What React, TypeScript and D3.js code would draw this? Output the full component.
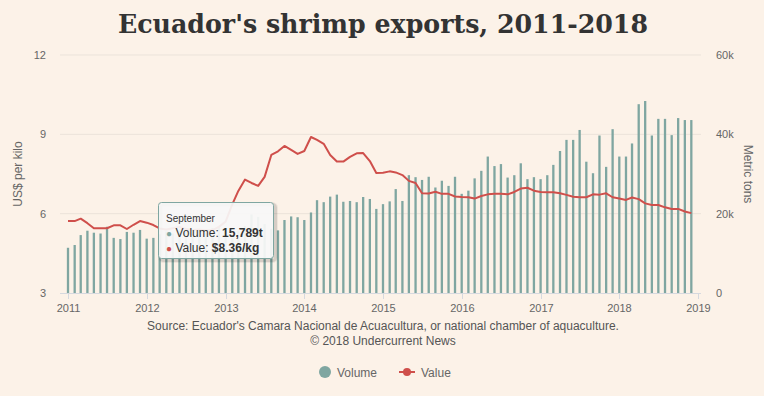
import React from "react";
import * as d3 from "d3";

const title = "Ecuador's shrimp exports, 2011-2018";
const sourceLines = [
  "Source: Ecuador's Camara Nacional de Acuacultura, or national chamber of aquaculture.",
  "© 2018 Undercurrent News",
];
const years = [2011, 2012, 2013, 2014, 2015, 2016, 2017, 2018, 2019];
const leftTicks = [3, 6, 9, 12];
const rightTicks = [0, 20000, 40000, 60000];
const rightTickLabels = ["0", "20k", "40k", "60k"];

// monthly volume, thousand tonnes, Jan 2011 - Dec 2018
const volumeK = [
  11.4, 12.1, 14.6, 15.7, 15.2, 15.0, 16.7, 13.9, 13.6, 15.4, 15.2, 15.9,
  13.7, 13.9, 14.8, 15.5, 15.0, 16.2, 15.6, 14.9, 15.8, 15.2, 16.4, 16.8,
  14.6, 13.9, 15.8, 16.9, 19.8, 19.2, 17.4, 16.2, 15.789, 18.4, 19.3, 19.1,
  18.4, 20.3, 23.4, 22.9, 24.3, 24.8, 23.0, 23.2, 22.9, 24.2, 23.7, 21.2,
  22.4, 23.1, 26.2, 23.2, 29.7, 29.2, 28.5, 29.3, 26.6, 28.3, 27.0, 29.3,
  25.0, 25.8, 28.9, 30.8, 34.4, 32.0, 32.5, 29.1, 29.7, 32.7, 28.7, 29.2,
  28.7, 29.7, 32.3, 35.8, 38.6, 38.6, 41.1, 33.1, 30.2, 39.7, 31.8, 41.3,
  34.4, 34.4, 37.7, 47.6, 48.4, 39.7, 43.9, 43.9, 39.8, 44.1, 43.6, 43.6,
];

// monthly value, US$ per kilo
const valuePerKg = [
  5.72, 5.72, 5.81, 5.64, 5.45, 5.45, 5.45, 5.56, 5.56, 5.42, 5.58, 5.72,
  5.66, 5.57, 5.44, 5.4, 5.45, 5.5, 5.42, 5.38, 5.4, 5.36, 5.38, 5.5,
  5.7, 6.35, 6.86, 7.29, 7.16, 7.05, 7.39, 8.22, 8.36, 8.56, 8.41, 8.26,
  8.37, 8.9, 8.79, 8.64, 8.22, 7.97, 7.97, 8.15, 8.28, 8.29, 7.99, 7.54,
  7.55, 7.6, 7.56, 7.46, 7.24, 7.16, 6.77, 6.76, 6.83, 6.75, 6.75, 6.65,
  6.63, 6.62, 6.57, 6.67, 6.73, 6.75, 6.75, 6.73, 6.82, 6.95, 6.98, 6.87,
  6.82, 6.81, 6.81, 6.77, 6.71, 6.64, 6.62, 6.62, 6.73, 6.72, 6.77, 6.62,
  6.57, 6.52, 6.61, 6.55, 6.39, 6.33, 6.33, 6.24, 6.18, 6.18, 6.08, 6.02,
];

const tooltipMonth = "September";
const tooltipVolume = "15,789t";
const tooltipValue = "$8.36/kg";

const BG = "#fcf2e8";
const BAR = "#7fa6a1";
const LINE = "#cf4f4b";
const FONT = "'Liberation Sans', Arial, sans-serif";

export default function App() {
  const W = 764;
  const H = 396;
  const plotL = 60;
  const plotR = 701;
  const x = d3
    .scaleTime()
    .domain([new Date(2011, 0, 1), new Date(2019, 0, 1)])
    .range([68, 698]);
  const yL = d3.scaleLinear().domain([3, 12]).range([293, 55]);
  const yR = d3.scaleLinear().domain([0, 60000]).range([293, 55]);

  const months = volumeK.map((_, i) => new Date(2011, i, 1));
  const barW = 2.3;

  const line = d3
    .line<number>()
    .x((_, i) => x(months[i]))
    .y((d) => yL(d));

  return (
    <svg
      width={W}
      height={H}
      style={{ position: "absolute", left: 0, top: 0, background: BG }}
    >
      <rect x={0} y={0} width={W} height={H} fill={BG} />
      <text
        x={383}
        y={33}
        textAnchor="middle"
        fontFamily="'DejaVu Serif', Georgia, serif"
        fontWeight="bold"
        fontSize={26}
        fill="#333"
        textLength={530}
        lengthAdjust="spacingAndGlyphs"
      >
        {title}
      </text>

      {/* grid */}
      {leftTicks.slice(1).map((t) => (
        <line
          key={t}
          x1={plotL}
          x2={plotR}
          y1={yL(t)}
          y2={yL(t)}
          stroke="#ebe3da"
          strokeWidth={1}
        />
      ))}

      {/* bars */}
      {volumeK.map((v, i) => (
        <rect
          key={i}
          x={x(months[i]) - barW / 2}
          y={yR(v * 1000)}
          width={barW}
          height={yR(0) - yR(v * 1000)}
          fill={BAR}
        />
      ))}

      {/* x axis */}
      <line x1={plotL} x2={plotR} y1={293.5} y2={293.5} stroke="#d6d9df" />
      {years.map((yr) => {
        const px = Math.round(x(new Date(yr, 0, 1))) + 0.5;
        return (
          <g key={yr}>
            <line x1={px} x2={px} y1={293} y2={299} stroke="#d6d9df" />
            <text
              x={px}
              y={312}
              textAnchor="middle"
              fontFamily={FONT}
              fontSize={11}
              fill="#666"
            >
              {yr}
            </text>
          </g>
        );
      })}

      {/* value line */}
      <path d={line(valuePerKg) || ""} fill="none" stroke={LINE} strokeWidth={2} strokeLinejoin="round" />

      {/* left axis labels */}
      {leftTicks.map((t) => (
        <text
          key={t}
          x={46}
          y={yL(t) + 4}
          textAnchor="end"
          fontFamily={FONT}
          fontSize={11}
          fill="#666"
        >
          {t}
        </text>
      ))}
      <text
        transform="translate(22,174) rotate(-90)"
        textAnchor="middle"
        fontFamily={FONT}
        fontSize={12}
        fill="#666"
      >
        US$ per kilo
      </text>

      {/* right axis labels */}
      {rightTicks.map((t, i) => (
        <text
          key={t}
          x={716}
          y={yR(t) + 4}
          textAnchor="start"
          fontFamily={FONT}
          fontSize={11}
          fill="#666"
        >
          {rightTickLabels[i]}
        </text>
      ))}
      <text
        transform="translate(744,174) rotate(90)"
        textAnchor="middle"
        fontFamily={FONT}
        fontSize={12}
        fill="#666"
      >
        Metric tons
      </text>

      {/* source */}
      {sourceLines.map((s, i) => (
        <text
          key={i}
          x={383}
          y={330 + i * 15}
          textAnchor="middle"
          fontFamily={FONT}
          fontSize={12}
          fill="#555"
        >
          {s}
        </text>
      ))}

      {/* legend */}
      <circle cx={325} cy={372} r={6} fill={BAR} />
      <text x={337} y={376.5} fontFamily={FONT} fontSize={12} fill="#666">
        Volume
      </text>
      <line x1={399} x2={415} y1={372} y2={372} stroke={LINE} strokeWidth={2} />
      <circle cx={407} cy={372} r={4} fill={LINE} />
      <text x={421} y={376.5} fontFamily={FONT} fontSize={12} fill="#666">
        Value
      </text>

      {/* tooltip */}
      <g>
        <rect x={159.5} y={203.5} width={115} height={56} rx={3} fill="none" stroke="rgba(0,0,0,0.05)" strokeWidth={5} transform="translate(1,1)" />
        <rect x={159.5} y={203.5} width={115} height={56} rx={3} fill="none" stroke="rgba(0,0,0,0.1)" strokeWidth={3} transform="translate(1,1)" />
        <rect x={158.5} y={202.5} width={115} height={56} rx={3} fill="rgba(247,247,247,0.93)" stroke={BAR} strokeWidth={1} />
        <text x={166} y={222} fontFamily={FONT} fontSize={10} fill="#333">
          {tooltipMonth}
        </text>
        <text x={166} y={237} fontFamily={FONT} fontSize={12} fill="#333">
          <tspan fill={BAR} fontSize={10}>●</tspan>
          <tspan> Volume: </tspan>
          <tspan fontWeight="bold">{tooltipVolume}</tspan>
        </text>
        <text x={166} y={252} fontFamily={FONT} fontSize={12} fill="#333">
          <tspan fill={LINE} fontSize={10}>●</tspan>
          <tspan> Value: </tspan>
          <tspan fontWeight="bold">{tooltipValue}</tspan>
        </text>
      </g>
    </svg>
  );
}
